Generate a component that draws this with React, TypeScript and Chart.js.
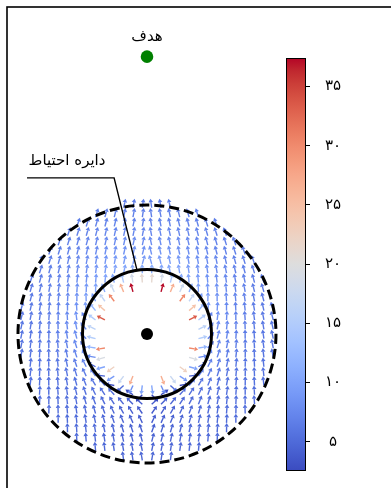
import React, { useEffect, useRef } from "react";
import { Chart, registerables } from "chart.js";
Chart.register(...registerables);

// ---------------- data ----------------
const OBSTACLE_X = 0;
const OBSTACLE_Y = 0;
const GOAL_X = 0;
const GOAL_Y = 8.6;
const CAUTION_RADIUS = 2;
const FIELD_RADIUS = 4;
const INNER_CUTOFF = 1.35;
const GRID_STEP = 0.29;
const GRID_HALF_COUNT = 14;
// field model gains
const ATTRACTION = 5.5;
const REPULSION_GAIN = 200;
const FAR_REPULSION_GAIN = 15.3;
const SWIRL_GAIN = 12.6;
const COLOR_MIN = 2.61;
const COLOR_MAX = 37.4;
const COLORBAR_TICKS = [5, 10, 15, 20, 25, 30, 35];
const COLORBAR_LABELS = ["۵", "۱۰", "۱۵", "۲۰", "۲۵", "۳۰", "۳۵"];
const GOAL_LABEL = "هدف";
const CAUTION_LABEL = "دایره احتیاط";
const X_RANGE = [-4.341, 7.566];
const Y_RANGE = [-4.775, 10.14];
const CAUTION_TEXT_POS = [-2.48, 5.36];
const CAUTION_ELBOW = [[-3.72, 4.84], [-1.02, 4.84]];
const CAUTION_TARGET = [-0.31, 1.98];

const COOLWARM = [
  [59, 76, 192], [68, 90, 204], [77, 104, 215], [87, 117, 225], [98, 130, 234],
  [108, 142, 241], [119, 154, 247], [130, 165, 251], [141, 176, 254], [152, 185, 255],
  [163, 194, 255], [174, 201, 253], [184, 208, 249], [194, 213, 244], [204, 217, 238],
  [213, 219, 230], [221, 221, 221], [229, 216, 209], [236, 211, 197], [241, 204, 184],
  [245, 196, 172], [247, 187, 160], [247, 177, 148], [247, 166, 137], [244, 154, 123],
  [241, 141, 112], [236, 127, 99], [229, 112, 88], [222, 96, 77], [213, 80, 66],
  [203, 62, 56], [192, 40, 47], [180, 4, 38],
];

function coolwarm(t: number, alpha = 1): string {
  const c = Math.max(0, Math.min(1, t)) * (COOLWARM.length - 1);
  const i = Math.min(COOLWARM.length - 2, Math.floor(c));
  const f = c - i;
  const a = COOLWARM[i], b = COOLWARM[i + 1];
  const r = Math.round(a[0] + (b[0] - a[0]) * f);
  const g = Math.round(a[1] + (b[1] - a[1]) * f);
  const bl = Math.round(a[2] + (b[2] - a[2]) * f);
  return `rgba(${r},${g},${bl},${alpha})`;
}

type Vec = { x: number; y: number; u: number; v: number; m: number };

function buildField(): Vec[] {
  const out: Vec[] = [];
  for (let i = -GRID_HALF_COUNT; i < GRID_HALF_COUNT; i++) {
    for (let j = -GRID_HALF_COUNT; j < GRID_HALF_COUNT; j++) {
      const x = (i + 0.5) * GRID_STEP;
      const y = (j + 0.5) * GRID_STEP;
      const dx = x - OBSTACLE_X, dy = y - OBSTACLE_Y;
      const rho = Math.hypot(dx, dy);
      if (rho > FIELD_RADIUS || rho < INNER_CUTOFF) continue;
      const rx = dx / rho, ry = dy / rho;
      const gx = GOAL_X - x, gy = GOAL_Y - y;
      const gd = Math.hypot(gx, gy);
      let fx = (ATTRACTION * gx) / gd;
      let fy = (ATTRACTION * gy) / gd;
      let rep = FAR_REPULSION_GAIN / (rho * rho);
      if (rho < CAUTION_RADIUS) rep += (REPULSION_GAIN * (1 / rho - 1 / CAUTION_RADIUS)) / (rho * rho);
      fx += rep * rx;
      fy += rep * ry;
      if (rho >= CAUTION_RADIUS) {
        const sw = SWIRL_GAIN / (rho * rho);
        const tx = x < 0 ? ry : -ry;
        const ty = x < 0 ? -rx : rx;
        fx += sw * tx;
        fy += sw * ty;
      }
      const m = Math.hypot(fx, fy);
      out.push({ x, y, u: fx / m, v: fy / m, m });
    }
  }
  return out;
}

const FIELD = buildField();

const fieldPlugin = {
  id: "fieldPlugin",
  beforeDatasetsDraw(chart: any) {
    const ctx = chart.ctx;
    const xs = chart.scales.x, ys = chart.scales.y;
    const meta = chart.getDatasetMeta(0);
    const L = 9.2, hl = 3.6, hw = 2.3;
    ctx.save();
    meta.data.forEach((el: any, k: number) => {
      const f = FIELD[k];
      const px = el.x, py = el.y;
      const ux = f.u, uy = -f.v;
      const tx = px + ux * L, ty = py + uy * L;
      const bx = tx - ux * hl, by = ty - uy * hl;
      const col = coolwarm((f.m - COLOR_MIN) / (COLOR_MAX - COLOR_MIN), 1);
      ctx.strokeStyle = col;
      ctx.fillStyle = col;
      ctx.lineWidth = 1.4;
      ctx.beginPath();
      ctx.moveTo(px, py);
      ctx.lineTo(bx, by);
      ctx.stroke();
      ctx.beginPath();
      ctx.moveTo(tx, ty);
      ctx.lineTo(bx - uy * hw, by + ux * hw);
      ctx.lineTo(bx + uy * hw, by - ux * hw);
      ctx.closePath();
      ctx.fill();
    });
    const cx = xs.getPixelForValue(OBSTACLE_X), cy = ys.getPixelForValue(OBSTACLE_Y);
    const rC = xs.getPixelForValue(CAUTION_RADIUS) - xs.getPixelForValue(0);
    const rF = xs.getPixelForValue(FIELD_RADIUS) - xs.getPixelForValue(0);
    ctx.strokeStyle = "#000";
    ctx.lineWidth = 3;
    ctx.setLineDash([10, 5]);
    ctx.beginPath();
    ctx.arc(cx, cy, rF, 0, Math.PI * 2);
    ctx.stroke();
    ctx.setLineDash([]);
    ctx.beginPath();
    ctx.arc(cx, cy, rC, 0, Math.PI * 2);
    ctx.stroke();
    ctx.restore();
  },
  afterDraw(chart: any) {
    const ctx = chart.ctx;
    const xs = chart.scales.x, ys = chart.scales.y;
    const a = chart.chartArea;
    ctx.save();
    ctx.strokeStyle = "#000";
    ctx.lineWidth = 1.6;
    ctx.strokeRect(a.left, a.top, a.right - a.left + 20, a.bottom - a.top + 20);
    ctx.lineWidth = 1.4;
    ctx.beginPath();
    ctx.moveTo(xs.getPixelForValue(CAUTION_ELBOW[0][0]), ys.getPixelForValue(CAUTION_ELBOW[0][1]));
    ctx.lineTo(xs.getPixelForValue(CAUTION_ELBOW[1][0]), ys.getPixelForValue(CAUTION_ELBOW[1][1]));
    ctx.lineTo(xs.getPixelForValue(CAUTION_TARGET[0]), ys.getPixelForValue(CAUTION_TARGET[1]));
    ctx.stroke();
    ctx.fillStyle = "#000";
    ctx.font = "15px 'DejaVu Sans'";
    ctx.textAlign = "center";
    ctx.textBaseline = "middle";
    ctx.fillText(CAUTION_LABEL, xs.getPixelForValue(CAUTION_TEXT_POS[0]), ys.getPixelForValue(CAUTION_TEXT_POS[1]));
    const gx = xs.getPixelForValue(GOAL_X), gy = ys.getPixelForValue(GOAL_Y);
    ctx.fillText(GOAL_LABEL, gx, gy - 20);
    ctx.restore();
  },
};

const colorbarPlugin = {
  id: "colorbarPlugin",
  afterDraw(chart: any) {
    const a = chart.chartArea;
    const ctx = chart.ctx;
    ctx.save();
    ctx.strokeStyle = "#000";
    ctx.lineWidth = 1;
    ctx.strokeRect(a.left + 0.5, a.top + 0.5, a.right - a.left - 1, a.bottom - a.top);
    ctx.restore();
  },
};

export default function App() {
  const mainRef = useRef<HTMLCanvasElement>(null);
  const cbRef = useRef<HTMLCanvasElement>(null);

  useEffect(() => {
    const main = new Chart(mainRef.current!, {
      type: "scatter",
      data: {
        datasets: [
          { data: FIELD.map((f) => ({ x: f.x, y: f.y })), pointRadius: 0, pointHoverRadius: 0 },
          { data: [{ x: GOAL_X, y: GOAL_Y }], pointRadius: 6.3, pointHoverRadius: 0, backgroundColor: "#008000", borderWidth: 0 },
          { data: [{ x: OBSTACLE_X, y: OBSTACLE_Y }], pointRadius: 6, pointHoverRadius: 0, backgroundColor: "#000", borderWidth: 0 },
        ],
      },
      options: {
        responsive: false,
        animation: false,
        events: [],
        layout: { autoPadding: false, padding: { left: 7, top: 7, right: 0, bottom: 0 } },
        plugins: { legend: { display: false }, tooltip: { enabled: false } },
        scales: {
          x: { type: "linear", display: false, min: X_RANGE[0], max: X_RANGE[1] },
          y: { type: "linear", display: false, min: Y_RANGE[0], max: Y_RANGE[1] },
        },
      },
      plugins: [fieldPlugin],
    });

    const cb = new Chart(cbRef.current!, {
      type: "bar",
      data: {
        labels: ["c"],
        datasets: [
          {
            data: [[COLOR_MIN, COLOR_MAX]] as any,
            borderWidth: 0,
            barPercentage: 1,
            categoryPercentage: 1,
            backgroundColor: (c: any) => {
              const ch = c.chart;
              const a = ch.chartArea;
              if (!a) return "#ddd";
              const g = ch.ctx.createLinearGradient(0, a.bottom, 0, a.top);
              COOLWARM.forEach((_, i) => g.addColorStop(i / (COOLWARM.length - 1), coolwarm(i / (COOLWARM.length - 1))));
              return g;
            },
          },
        ],
      },
      options: {
        responsive: false,
        animation: false,
        events: [],
        layout: { autoPadding: false, padding: { left: 16, top: 18, right: 0, bottom: 18 } },
        plugins: { legend: { display: false }, tooltip: { enabled: false } },
        scales: {
          x: { display: false },
          y: {
            position: "right",
            min: COLOR_MIN,
            max: COLOR_MAX,
            afterFit: (s: any) => {
              s.width = 85;
              s.paddingTop = 0;
              s.paddingBottom = 0;
            },
            afterBuildTicks: (s: any) => {
              s.ticks = COLORBAR_TICKS.map((v) => ({ value: v }));
            },
            border: { display: false },
            grid: { drawOnChartArea: false, drawTicks: true, tickLength: 4, color: "#000", lineWidth: 1 },
            ticks: {
              color: "#000",
              font: { family: "'DejaVu Sans'", size: 15 },
              padding: 15,
              crossAlign: "center",
              callback: (v: any) => {
                const i = COLORBAR_TICKS.indexOf(Number(v));
                return i >= 0 ? COLORBAR_LABELS[i] : "";
              },
            },
          },
        },
      },
      plugins: [colorbarPlugin],
    });

    return () => {
      main.destroy();
      cb.destroy();
    };
  }, []);

  return (
    <div style={{ position: "absolute", left: 0, top: 0, width: 391, height: 488, background: "#fff" }}>
      <canvas ref={mainRef} width={391} height={488} style={{ position: "absolute", left: 0, top: 0 }} />
      <canvas ref={cbRef} width={121} height={448} style={{ position: "absolute", left: 270, top: 40 }} />
    </div>
  );
}
